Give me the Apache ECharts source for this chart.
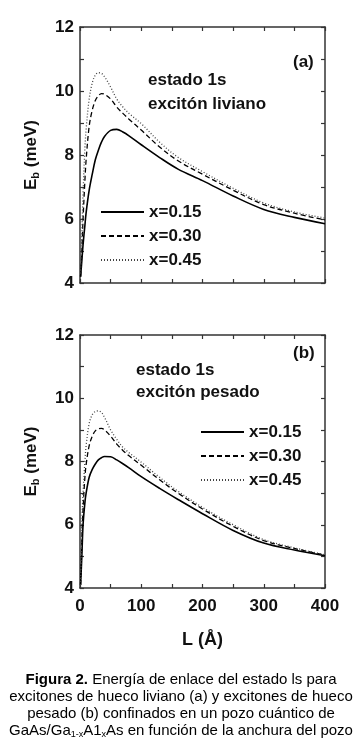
<!DOCTYPE html>
<html>
<head>
<meta charset="utf-8">
<script src="https://cdn.jsdelivr.net/npm/echarts@6/dist/echarts.min.js"></script>
<style>
  html, body { margin: 0; padding: 0; background: #fff; }
  #chart { width: 363px; height: 756px; }
</style>
</head>
<body>
<div id="chart"></div>
<script>
// pozo de ancho L (Å)
var L = [1, 3, 5, 8, 10, 15, 20, 25, 30, 35, 40, 50, 60, 70, 80, 100, 130, 160, 200, 250, 300, 350, 400];

// (a) excitón liviano
var ligero015 = [4.2, 4.7, 5.2, 5.8, 6.2, 6.9, 7.4, 7.85, 8.15, 8.4, 8.58, 8.77, 8.8, 8.72, 8.6, 8.32, 7.92, 7.56, 7.2, 6.72, 6.3, 6.05, 5.85];
var ligero030 = [4.2, 5.0, 6.0, 7.2, 7.85, 8.9, 9.4, 9.7, 9.85, 9.92, 9.9, 9.75, 9.5, 9.3, 9.12, 8.78, 8.25, 7.82, 7.4, 6.9, 6.45, 6.18, 5.97];
var ligero045 = [4.3, 5.5, 6.8, 8.2, 8.8, 9.75, 10.25, 10.5, 10.57, 10.55, 10.45, 10.12, 9.75, 9.5, 9.3, 8.98, 8.4, 7.93, 7.48, 6.96, 6.5, 6.22, 6.03];

// (b) excitón pesado
var pesado015 = [4.1, 5.0, 6.0, 6.7, 7.0, 7.5, 7.75, 7.92, 8.05, 8.12, 8.16, 8.15, 8.05, 7.93, 7.8, 7.52, 7.15, 6.8, 6.35, 5.82, 5.42, 5.2, 5.02];
var pesado030 = [4.1, 5.5, 6.5, 7.5, 7.9, 8.5, 8.8, 8.97, 9.03, 9.05, 9.0, 8.8, 8.55, 8.35, 8.18, 7.88, 7.42, 7.0, 6.5, 5.95, 5.5, 5.25, 5.04];
var pesado045 = [4.1, 6.0, 7.0, 8.0, 8.5, 9.2, 9.48, 9.58, 9.6, 9.55, 9.4, 9.0, 8.7, 8.45, 8.28, 7.98, 7.5, 7.06, 6.55, 6.0, 5.53, 5.27, 5.05];

var nombres = ['x=0.15', 'x=0.30', 'x=0.45'];
var tipos = ['solid', [5, 3], [1, 2]];

function pares(ys) {
    return L.map(function (l, i) { return [l, ys[i]]; });
}

var fuente = 'Liberation Sans, Arial, sans-serif';
var chart = echarts.init(document.getElementById('chart'));

function ejeX(grid, labels, pos) {
    return {
        type: 'value', gridIndex: grid, position: pos,
        min: 0, max: 400, interval: 50,
        axisLine: { show: true, onZero: false, lineStyle: { color: '#333', width: 1.5 } },
        axisTick: { show: true, inside: true, length: 4, lineStyle: { color: '#333', width: 1.2 } },
        splitLine: { show: false },
        axisLabel: {
            show: labels, margin: 10, color: '#111',
            fontFamily: fuente, fontWeight: 'bold', fontSize: 17,
            formatter: function (v) { return v % 100 === 0 ? String(v) : ''; }
        }
    };
}

function ejeY(grid, labels, pos) {
    return {
        type: 'value', gridIndex: grid, position: pos,
        min: 4, max: 12, interval: 1,
        axisLine: { show: true, onZero: false, lineStyle: { color: '#333', width: 1.5 } },
        axisTick: { show: true, inside: true, length: 4, lineStyle: { color: '#333', width: 1.2 } },
        splitLine: { show: false },
        axisLabel: {
            show: labels, margin: 6, color: '#111',
            fontFamily: fuente, fontWeight: 'bold', fontSize: 17,
            formatter: function (v) { return v % 2 === 0 ? String(v) : ''; }
        }
    };
}

var nombreY = {
    name: '{a|E}{s|b}{a| (meV)}',
    nameLocation: 'middle', nameRotate: 90, nameGap: 39,
    nameTextStyle: {
        rich: {
            a: { fontFamily: fuente, fontWeight: 'bold', fontSize: 17, lineHeight: 20, color: '#111' },
            s: { fontFamily: fuente, fontWeight: 'bold', fontSize: 11, lineHeight: 11, color: '#111', verticalAlign: 'bottom' }
        }
    }
};

var xAxes = [ejeX(0, false, 'bottom'), ejeX(0, false, 'top'), ejeX(1, true, 'bottom'), ejeX(1, false, 'top')];
xAxes[2].name = 'L (Å)';
xAxes[2].nameLocation = 'middle';
xAxes[2].nameGap = 43;
xAxes[2].nameTextStyle = { fontFamily: fuente, fontWeight: 'bold', fontSize: 18, color: '#111' };

var yAxes = [ejeY(0, true, 'left'), ejeY(0, false, 'right'), ejeY(1, true, 'left'), ejeY(1, false, 'right')];
Object.assign(yAxes[0], nombreY);
Object.assign(yAxes[2], nombreY);

var series = [];
[[ligero015, ligero030, ligero045], [pesado015, pesado030, pesado045]].forEach(function (grupo, g) {
    grupo.forEach(function (ys, k) {
        var c = k === 2 ? '#444' : '#000';
        series.push({
            name: nombres[k], type: 'line',
            xAxisIndex: g * 2, yAxisIndex: g * 2,
            data: pares(ys), smooth: 0.35, symbol: 'none',
            itemStyle: { color: c },
            lineStyle: { color: c, width: k === 0 ? 1.6 : 1.3, type: tipos[k] }
        });
    });
});

var textoNegrita = { fontFamily: fuente, fontWeight: 'bold', fontSize: 17, fill: '#111' };
function etiqueta(x, y, t) {
    return { type: 'text', x: x, y: y, style: Object.assign({ text: t, verticalAlign: 'middle' }, textoNegrita) };
}

var capRich = {
    n: { fontFamily: fuente, fontSize: 15, lineHeight: 17, color: '#000' },
    b: { fontFamily: fuente, fontSize: 15, lineHeight: 17, fontWeight: 'bold', color: '#000' },
    s: { fontFamily: fuente, fontSize: 9, lineHeight: 9, color: '#000', verticalAlign: 'bottom' }
};
var leyenda = [
    '{b|Figura 2.}{n| Energía de enlace del estado ls para}',
    '{n|excitones de hueco liviano (a) y excitones de hueco}',
    '{n|pesado (b) confinados en un pozo cuántico de}',
    '{n|GaAs/Ga}{s|1-x}{n|A1}{s|x}{n|As en función de la anchura del pozo}'
];

var estiloLeyenda = {
    data: nombres, orient: 'vertical',
    itemWidth: 43, itemHeight: 14, itemGap: 4,
    itemStyle: { opacity: 0 },
    textStyle: { fontFamily: fuente, fontWeight: 'bold', fontSize: 17, lineHeight: 20, color: '#111' }
};

var option = {
    backgroundColor: '#fff',
    animation: false,
    grid: [
        { left: 80, top: 27, width: 245, height: 256 },
        { left: 80, top: 335, width: 245, height: 253 }
    ],
    xAxis: xAxes,
    yAxis: yAxes,
    legend: [
        Object.assign({ left: 95, top: 197 }, estiloLeyenda),
        Object.assign({ left: 195, top: 417 }, estiloLeyenda)
    ],
    graphic: [
        etiqueta(293, 62, '(a)'),
        etiqueta(148, 80, 'estado 1s'),
        etiqueta(148, 104, 'excitón liviano'),
        etiqueta(293, 353, '(b)'),
        etiqueta(136, 370, 'estado 1s'),
        etiqueta(136, 392, 'excitón pesado')
    ].concat(leyenda.map(function (t, i) {
        return {
            type: 'text', x: 181, y: 680 + i * 17,
            style: { text: t, rich: capRich, align: 'center', verticalAlign: 'middle' }
        };
    })),
    series: series
};
chart.setOption(option);
</script>
</body>
</html>
